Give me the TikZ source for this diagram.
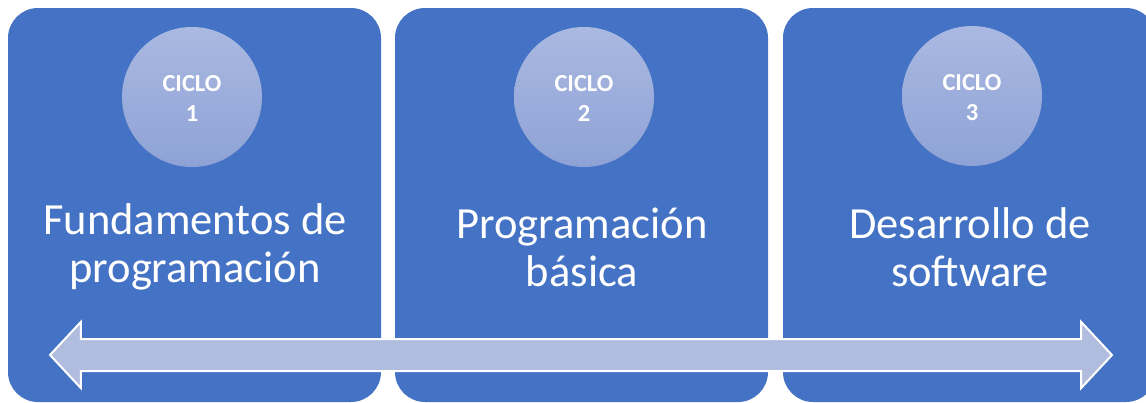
\documentclass[tikz,border=0pt]{standalone}
\usepackage{fontspec}
\setmainfont{Carlito}
\usetikzlibrary{shapes.arrows}
\definecolor{cyclebox}{HTML}{4472C4}
\definecolor{cycletop}{HTML}{AAB9E1}
\definecolor{cyclebot}{HTML}{8EA2D6}
\definecolor{timefill}{HTML}{B1BDDF}
\begin{document}
\begin{tikzpicture}[
		x=1pt, y=-1pt,
		stagebox/.style={rectangle, rounded corners=30pt, fill=cyclebox,
				minimum width=373pt, minimum height=394pt, inner sep=0pt},
		cyclenum/.style={circle, top color=cycletop, bottom color=cyclebot,
				minimum size=140pt, inner sep=0pt},
		cycletext/.style={text=white, align=center,
				font=\fontsize{24.5}{30}\selectfont\bfseries},
		stagename/.style={text=white, align=center,
				font=\fontsize{44.5}{48}\selectfont}
	]
	\useasboundingbox (0,0) rectangle (1146,402);
	\clip (0,0) rectangle (1146,402);
	% stages
	\node[stagebox] (box1) at (194.5,205) {};
	\node[stagebox] (box2) at (581.5,205) {};
	\node[stagebox] (box3) at (969.5,205) {};
	% cycles
	\node[cyclenum] (cyc1) at (192,97) {};
	\node[cyclenum] (cyc2) at (584,97) {};
	\node[cyclenum] (cyc3) at (972,96) {};
	\node[cycletext] (lab1) at ([yshift=-1.5pt]cyc1.center) {CICLO\\1};
	\node[cycletext] (lab2) at ([yshift=-1.5pt]cyc2.center) {CICLO\\2};
	\node[cycletext] (lab3) at ([yshift=-1.5pt]cyc3.center) {CICLO\\3};
	% names
	\node[stagename] (name1) at (195,247) {Fundamentos de\\programación};
	\node[stagename] (name2) at (582,247) {Programación\\básica};
	\node[stagename] (name3) at (970,247) {Desarrollo de\\software};
	% timeline
	\node[double arrow, fill=timefill, draw=white, line width=2pt,
		inner xsep=0pt, inner ysep=15pt, minimum height=1062pt,
		double arrow head extend=17pt, double arrow tip angle=94] (line) at (581,355) {};
\end{tikzpicture}
\end{document}
